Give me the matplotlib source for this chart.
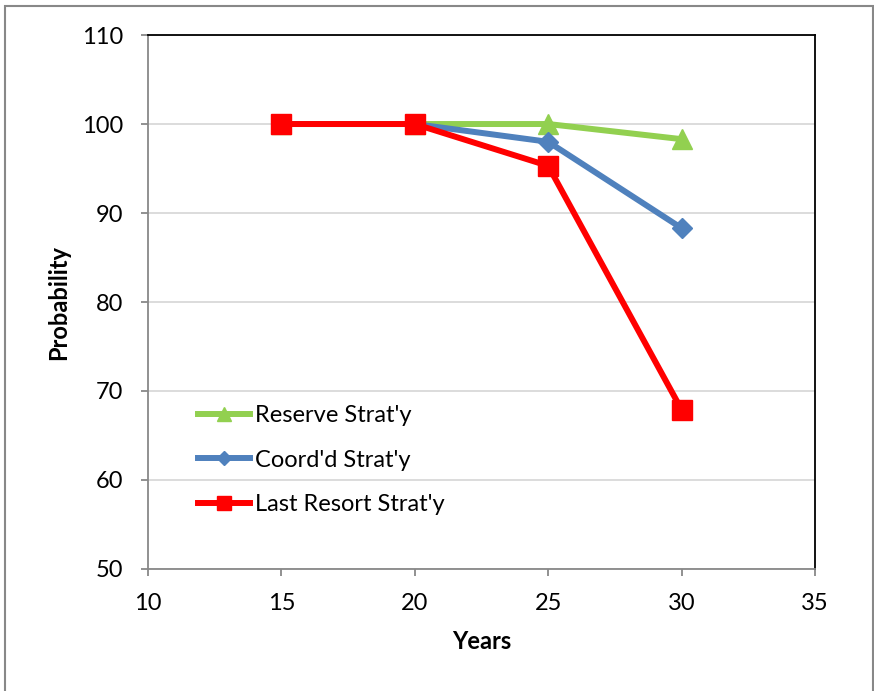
import matplotlib.pyplot as plt
from matplotlib.patches import Rectangle

plt.rcParams['font.family'] = ['Lato', 'DejaVu Sans']

years = [15, 20, 25, 30]
reserve = [100, 100, 100, 98.3]
coord = [100, 100, 98.0, 88.3]
last_resort = [100, 100, 95.3, 67.9]
labels = ["Reserve Strat'y", "Coord'd Strat'y", "Last Resort Strat'y"]

fig = plt.figure(figsize=(8.74, 6.91), dpi=100)
ax = fig.add_axes([0.1693, 0.1766, 0.7632, 0.7727])

ax.plot(years, reserve, color='#92D050', lw=4.3, marker='^', ms=14, label=labels[0])
ax.plot(years, coord, color='#4F81BD', lw=4.3, marker='D', ms=10, label=labels[1])
ax.plot(years, last_resort, color='#FF0000', lw=4.3, marker='s', ms=14, label=labels[2])

ax.set_xlim(10, 35)
ax.set_ylim(50, 110)
ax.set_xticks(range(10, 36, 5))
ax.set_yticks(range(50, 111, 10))
ax.grid(axis='y', color='#d9d9d9', lw=1.3)
ax.set_axisbelow(True)

for s in ['top', 'right']:
    ax.spines[s].set_color('black')
    ax.spines[s].set_linewidth(1.3)
for s in ['left', 'bottom']:
    ax.spines[s].set_color('#888888')
    ax.spines[s].set_linewidth(1.3)
ax.tick_params(axis='both', colors='#888888', labelcolor='black', labelsize=17,
               length=5, width=1.3, direction='out')
ax.tick_params(axis='x', pad=12)
ax.tick_params(axis='y', pad=13)

ax.set_xlabel('Years', fontsize=17, fontweight='bold', labelpad=12)
ax.set_ylabel('Probability', fontsize=17, fontweight='bold', labelpad=8)

leg = ax.legend(loc='center left', bbox_to_anchor=(0.075, 0.204), frameon=False,
                fontsize=17, handlelength=2.2, labelspacing=1.0, markerscale=0.75,
                handletextpad=0.2, borderpad=0, borderaxespad=0)

# outer frame of the chart area
fig.patches.append(Rectangle((5 / 874, -0.1), 868 / 874, 1.1 - 6 / 691,
                             transform=fig.transFigure, fill=False,
                             edgecolor='#888888', lw=1.5))

fig.savefig('out.png', dpi=100)
